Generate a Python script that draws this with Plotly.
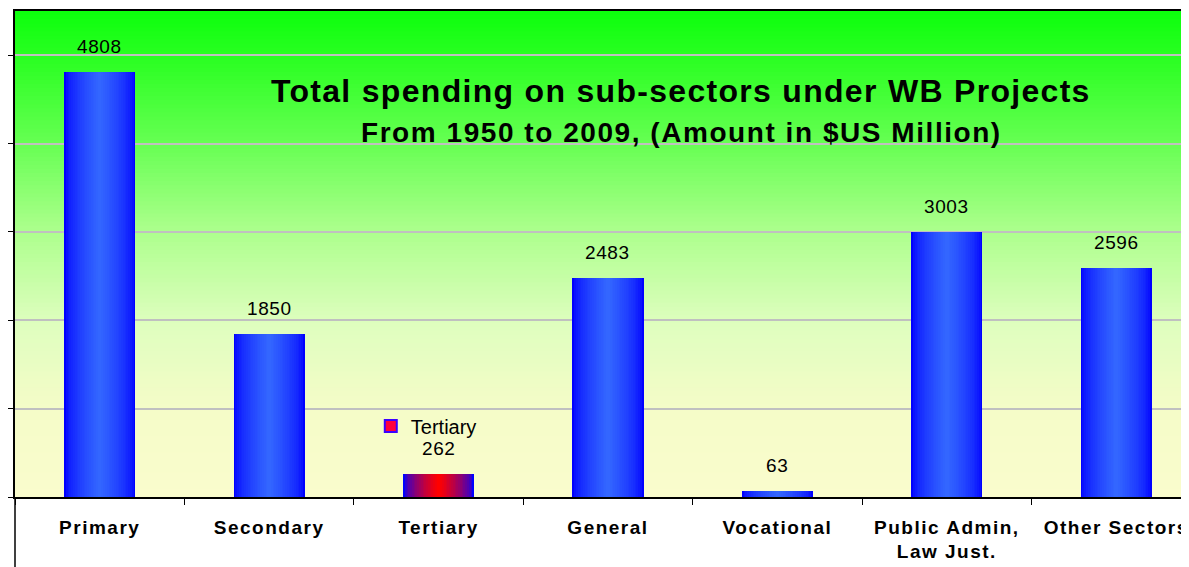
import plotly.graph_objects as go

categories = ["Primary", "Secondary", "Tertiary", "General", "Vocational",
              "Public Admin, Law Just.", "Other Sectors"]
tick_labels = ["Primary", "Secondary", "Tertiary", "General", "Vocational",
               "Public Admin,<br>Law Just.", "Other Sectors"]
spending = [4808, 1850, 262, 2483, 63, 3003, 2596]
y_ticks = [0, 1000, 2000, 3000, 4000, 5000]

FONT = "Liberation Sans, Arial, sans-serif"

# page has an 8px body margin; figure sized to fit the window
OFF = 8
W, H = 1189 - OFF, 567 - OFF
ML, MR, MT, MB = 3, 0, 3, 70
PW = W - ML - MR
PH = H - MT - MB
CAT_PX = 170.0
x_max = -0.5 + PW / CAT_PX

fig = go.Figure()

def lerp(c1, c2, t):
    return tuple(int(round(a + (b - a) * t)) for a, b in zip(c1, c2))

edge = (0, 0, 255)
center_blue = (51, 102, 255)
center_red = (255, 0, 0)
N = 20
bar_w = 0.42
for i in range(N):
    t = i / (N - 1)
    tt = min(1.0, (t ** 0.6))
    cols = []
    for c in categories:
        cc = center_red if c == "Tertiary" else center_blue
        r, g, b = lerp(edge, cc, tt)
        cols.append(f"rgb({r},{g},{b})")
    fig.add_trace(go.Bar(
        x=categories, y=spending, width=bar_w * (1 - i / N),
        marker=dict(color=cols, line=dict(width=0)),
        showlegend=False, hoverinfo="skip",
    ))

# legend entry
fig.add_trace(go.Bar(
    x=[categories[2]], y=[None], name="Tertiary",
    marker=dict(color="rgb(255,0,60)", line=dict(color="rgb(60,0,255)", width=2)),
    showlegend=True,
))

# background gradient (shapes below gridlines)
stops = [(0.0, (250, 252, 205)), (0.18, (245, 252, 200)), (0.36, (222, 254, 190)),
         (0.55, (172, 255, 140)), (0.72, (105, 255, 85)), (0.88, (50, 255, 40)),
         (1.0, (12, 255, 12))]
def grad(y):
    for (y0, c0), (y1, c1) in zip(stops[:-1], stops[1:]):
        if y0 <= y <= y1:
            return lerp(c0, c1, (y - y0) / (y1 - y0))
    return stops[-1][1]
NS = 120
shapes = []
for k in range(NS):
    y0 = k / NS
    y1 = (k + 1) / NS
    r, g, b = grad((y0 + y1) / 2)
    shapes.append(dict(type="rect", xref="paper", yref="paper", x0=0, x1=1,
                       y0=y0, y1=y1 + 0.002, fillcolor=f"rgb({r},{g},{b})",
                       line=dict(width=0), layer="below"))
# left axis extension below plot
shapes.append(dict(type="line", xref="paper", yref="paper", x0=0, x1=0,
                   y0=-MB / PH, y1=0, line=dict(color="black", width=1.5)))

annotations = []
for c, v in zip(categories, spending):
    annotations.append(dict(x=c, y=v, xref="x", yref="y",
                            text=f'<span style="letter-spacing:0.6px">{v}</span>',
                            showarrow=False, yanchor="bottom", yshift=13,
                            font=dict(family=FONT, size=19, color="black")))

def px_x(px):
    return (px - OFF - ML) / PW

def px_y(py):
    return (OFF + MT + PH - py) / PH

annotations.append(dict(
    xref="paper", yref="paper", x=px_x(679), y=px_y(91),
    text='<span style="letter-spacing:1.3px"><b>Total spending on sub-sectors under WB Projects</b></span>',
    showarrow=False, xanchor="center", yanchor="middle",
    font=dict(family=FONT, size=32, color="black")))
annotations.append(dict(
    xref="paper", yref="paper", x=px_x(680), y=px_y(133),
    text='<span style="letter-spacing:1.55px"><b>From 1950 to 2009, (Amount in $US Million)</b></span>',
    showarrow=False, xanchor="center", yanchor="middle",
    font=dict(family=FONT, size=28, color="black")))

fig.update_layout(
    width=W, height=H,
    margin=dict(l=ML, r=MR, t=MT, b=MB, pad=0),
    paper_bgcolor="white", plot_bgcolor="rgba(0,0,0,0)",
    barmode="overlay", bargap=0,
    shapes=shapes, annotations=annotations,
    showlegend=True,
    legend=dict(x=px_x(368), y=px_y(426), xanchor="left",
                yanchor="middle", bgcolor="rgba(0,0,0,0)",
                font=dict(family=FONT, size=20, color="black"),
                itemwidth=30),
    font=dict(family=FONT),
)

span = '<span style="letter-spacing:1.5px"><b>'
fig.update_xaxes(
    type="category", categoryorder="array", categoryarray=categories,
    range=[-0.5, x_max], tickvals=categories,
    ticktext=[(span + t + '</b></span>').replace("<br>", '</b></span><br>' + span) for t in tick_labels],
    tickson="boundaries", ticks="outside", ticklen=6, tickcolor="black",
    ticklabelstandoff=12,
    showline=True, linecolor="black", linewidth=1.5, mirror=True,
    showgrid=False, zeroline=False,
    tickfont=dict(family=FONT, size=19, color="black"),
)
fig.update_yaxes(
    range=[0, 5500], tickvals=y_ticks, showticklabels=False,
    ticks="outside", ticklen=7, tickcolor="black",
    showline=True, linecolor="black", linewidth=1.5,
    showgrid=True, gridcolor="#c0c0c0", gridwidth=1.5, zeroline=False,
)

fig.write_html("out.html")
